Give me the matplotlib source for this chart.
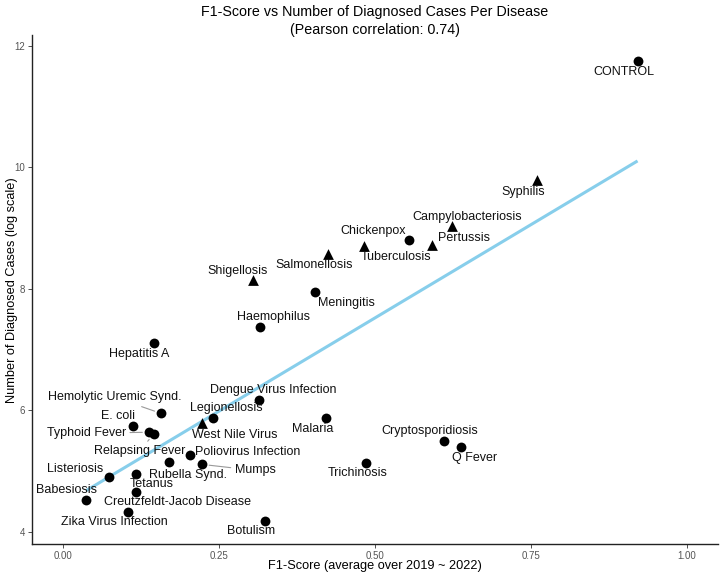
import numpy as np
import matplotlib
matplotlib.use("Agg")
import matplotlib.pyplot as plt

plt.rcParams['font.family'] = ['Liberation Sans', 'DejaVu Sans']

diseases = ["CONTROL", "Syphilis", "Campylobacteriosis", "Pertussis", "Chickenpox",
            "Tuberculosis", "Salmonellosis", "Meningitis", "Shigellosis", "Haemophilus",
            "Hepatitis A", "Dengue Virus Infection", "Hemolytic Uremic Synd.", "Legionellosis",
            "West Nile Virus", "Malaria", "E. coli", "Typhoid Fever", "Relapsing Fever",
            "Poliovirus Infection", "Rubella Synd.", "Mumps", "Listeriosis", "Tetanus",
            "Babesiosis", "Creutzfeldt-Jacob Disease", "Zika Virus Infection", "Botulism",
            "Trichinosis", "Cryptosporidiosis", "Q Fever"]
f1_score = [0.921, 0.760, 0.624, 0.592, 0.554,
            0.483, 0.424, 0.404, 0.304, 0.315,
            0.145, 0.314, 0.157, 0.240,
            0.222, 0.422, 0.112, 0.138, 0.145,
            0.204, 0.170, 0.223, 0.074, 0.117,
            0.037, 0.116, 0.104, 0.323,
            0.485, 0.611, 0.638]
log_cases = [11.76, 9.79, 9.04, 8.73, 8.80,
             8.71, 8.57, 7.95, 8.14, 7.38,
             7.11, 6.17, 5.95, 5.88,
             5.80, 5.87, 5.75, 5.64, 5.61,
             5.26, 5.15, 5.11, 4.91, 4.95,
             4.53, 4.66, 4.32, 4.18,
             5.14, 5.50, 5.39]
is_triangle = [False, True, True, True, False,
               True, True, False, True, False,
               False, False, False, False,
               True, False, False, False, False,
               False, False, False, False, False,
               False, False, False, False,
               False, False, False]

# label offsets in pixels (dx right, dy down) and whether a segment is drawn
label_offsets = [(-14, 11), (-14, 12), (15, -9), (32, -7), (-36, -9),
                 (32, 11), (-13, 11), (31, 11), (-15, -9), (14, -10),
                 (-14, 11), (14, -10), (-46, -16), (13, -10),
                 (33, 12), (-14, 11), (-15, -10), (-63, 1), (-14, 17),
                 (57, -3), (19, 13), (53, 6), (-34, -8), (16, 10),
                 (-20, -10), (42, 10), (-14, 10), (-14, 10),
                 (-8, 10), (-14, -10), (14, 11)]
segments = {"Hemolytic Uremic Synd.", "Typhoid Fever", "Relapsing Fever", "Mumps"}

x = np.array(f1_score)
y = np.array(log_cases)
tri = np.array(is_triangle)

W, H = 720, 574
fig = plt.figure(figsize=(W/100, H/100), dpi=100)
ax = fig.add_axes([32/W, 1-544/H, (718-32)/W, (544-35)/H])

# linear fit line
slope, intercept = np.polyfit(x, y, 1)
xs = np.array([x.min(), x.max()])
ax.plot(xs, slope*xs + intercept, color='#87CEEB', lw=2.2, zorder=1, solid_capstyle='butt')

ax.scatter(x[~tri], y[~tri], s=50, marker='o', color='black', zorder=2, linewidths=0)
ax.scatter(x[tri], y[tri], s=60, marker='^', color='black', zorder=2, linewidths=0)

for name, xi, yi, (dx, dy) in zip(diseases, x, y, label_offsets):
    kw = dict(xytext=(dx, -dy), textcoords='offset pixels', ha='center', va='center',
              fontsize=9, color='#111111', zorder=3)
    if name in segments:
        kw['arrowprops'] = dict(arrowstyle='-', color='#999999', lw=0.8, shrinkA=1, shrinkB=5)
    ax.annotate(name, (xi, yi), **kw)

ax.set_xlim(-0.05, 1.05)
ax.set_ylim(3.80, 12.18)
ax.set_xticks([0.0, 0.25, 0.5, 0.75, 1.0])
ax.set_xticklabels(["0.00", "0.25", "0.50", "0.75", "1.00"])
ax.set_yticks([4, 6, 8, 10, 12])
ax.tick_params(axis='both', labelsize=7, labelcolor='#555555', color='#333333',
               length=3, width=0.6, pad=2)
for s in ['top', 'right']:
    ax.spines[s].set_visible(False)
for s in ['left', 'bottom']:
    ax.spines[s].set_color('#222222')
    ax.spines[s].set_linewidth(1.0)

fig.text(375/W, 1-566/H, "F1-Score (average over 2019 ~ 2022)", fontsize=9.2,
         ha='center', va='center')
fig.text(12/W, 1-290/H, "Number of Diagnosed Cases (log scale)", fontsize=9.2,
         ha='center', va='center', rotation=90)
fig.text(375/W, 1-12/H, "F1-Score vs Number of Diagnosed Cases Per Disease", fontsize=10.3,
         ha='center', va='center')
fig.text(375/W, 1-30/H, "(Pearson correlation: 0.74)", fontsize=10.3,
         ha='center', va='center')

fig.savefig("out.png", dpi=100)
